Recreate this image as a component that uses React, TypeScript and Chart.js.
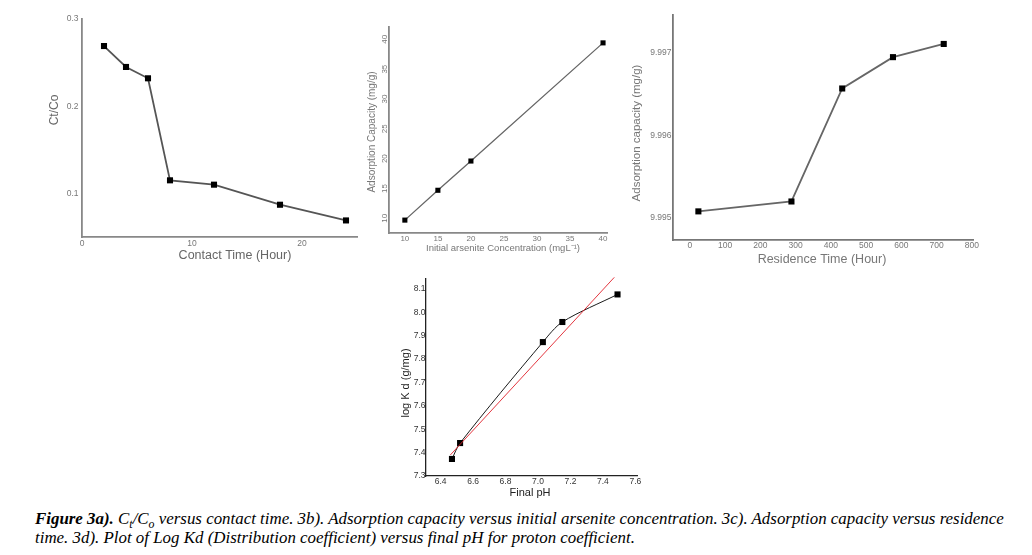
import React, { useEffect, useRef } from "react";
import { Chart, registerables } from "chart.js";

Chart.register(...registerables);

// ---------- Figure 3a: Ct/Co vs contact time ----------
const timeA = [2, 4, 6, 8, 12, 18, 24];
const ctcoA = [0.269, 0.245, 0.232, 0.115, 0.11, 0.087, 0.069];
const xTicksA = [0, 10, 20];
const yTicksA = [0.1, 0.2, 0.3];

// ---------- Figure 3b: adsorption capacity vs initial concentration ----------
const concB = [10, 15, 20, 40];
const capB = [9.7, 14.7, 19.6, 39.4];
const xTicksB = [10, 15, 20, 25, 30, 35, 40];
const yTicksB = [10, 15, 20, 25, 30, 35, 40];

// ---------- Figure 3c: adsorption capacity vs residence time ----------
const timeC = [24, 288, 432, 576, 720];
const capC = [9.99508, 9.9952, 9.99657, 9.99695, 9.99711];
const xTicksC = [0, 100, 200, 300, 400, 500, 600, 700, 800];
const yTicksC = [9.995, 9.996, 9.997];

// ---------- Figure 3d: log Kd vs final pH ----------
const phD = [6.47, 6.52, 7.03, 7.15, 7.49];
const logKdD = [7.373, 7.441, 7.873, 7.959, 8.077];
const fitPhD = [6.46, 7.47];
const fitLogKdD = [7.39, 8.15];
const xTicksD = [6.4, 6.6, 6.8, 7.0, 7.2, 7.4, 7.6];
const yTicksD = [7.3, 7.4, 7.5, 7.6, 7.7, 7.8, 7.9, 8.0, 8.1];

type TextItem = { text: string; x: number; y: number; rot?: boolean; font: string; color: string };

function titlesPlugin(items: TextItem[]) {
  return {
    id: "titles",
    afterDraw(chart: any) {
      const ctx = chart.ctx;
      for (const t of items) {
        ctx.save();
        ctx.font = t.font;
        ctx.fillStyle = t.color;
        ctx.textAlign = "center";
        ctx.textBaseline = "middle";
        ctx.translate(t.x, t.y);
        if (t.rot) ctx.rotate(-Math.PI / 2);
        ctx.fillText(t.text, 0, 0);
        ctx.restore();
      }
    },
  };
}

type Box = { l: number; t: number; r: number; b: number };

function axis(
  min: number,
  max: number,
  ticks: number[],
  fmt: (v: number) => string,
  fontSize: number,
  color: string,
  bColor: string,
  bWidth: number,
  padding: number,
  size: number,
  isY: boolean,
  rotated = false
) {
  const tickOpts: any = {
    font: { family: "Liberation Sans, Arial, sans-serif", size: fontSize },
    color,
    padding,
    autoSkip: false,
    maxRotation: rotated ? 90 : 0,
    minRotation: rotated ? 90 : 0,
    callback: (v: any) => fmt(Number(v)),
  };
  if (rotated) tickOpts.crossAlign = "center";
  return {
    type: "linear",
    min,
    max,
    grid: { display: false, drawTicks: false },
    border: { display: true, color: bColor, width: bWidth },
    ticks: tickOpts,
    afterBuildTicks: (s: any) => {
      s.ticks = ticks.map((v) => ({ value: v }));
    },
    afterFit: (s: any) => {
      if (isY) s.width = size;
      else s.height = size;
    },
  };
}

function Panel(props: {
  left: number;
  top: number;
  width: number;
  height: number;
  build: () => any;
}) {
  const ref = useRef<HTMLCanvasElement | null>(null);
  useEffect(() => {
    if (!ref.current) return;
    const chart = new Chart(ref.current, props.build());
    return () => chart.destroy();
  }, []);
  return (
    <canvas
      ref={ref}
      width={props.width}
      height={props.height}
      style={{
        position: "absolute",
        left: props.left,
        top: props.top,
        width: props.width,
        height: props.height,
      }}
    />
  );
}

const SANS = "Liberation Sans, Arial, sans-serif";

function baseOptions(W: number, H: number, box: Box, xs: any, ys: any) {
  return {
    responsive: false,
    animation: false,
    devicePixelRatio: 1,
    layout: { padding: { left: 0, top: box.t, right: W - box.r, bottom: 0 } },
    plugins: { legend: { display: false }, tooltip: { enabled: false } },
    scales: { x: xs, y: ys },
  };
}

function buildA() {
  const W = 340, H = 275;
  const box = { l: 52, t: 19, r: 327, b: 237 };
  return {
    type: "line",
    data: {
      datasets: [
        {
          data: timeA.map((x, i) => ({ x, y: ctcoA[i] })),
          borderColor: "#555",
          borderWidth: 1.8,
          pointStyle: "rect",
          pointRadius: 4.3,
          pointBackgroundColor: "#000",
          pointBorderColor: "#000",
          pointBorderWidth: 0,
          tension: 0,
          clip: false,
        },
      ],
    },
    options: baseOptions(
      W,
      H,
      box,
      axis(0, 25, xTicksA, (v) => String(v), 8.5, "#777", "#888", 1.8, 1.5, H - box.b, false),
      axis(0.05, 0.3, yTicksA, (v) => v.toFixed(1), 8.5, "#777", "#888", 1.8, 3.5, box.l, true)
    ),
    plugins: [
      titlesPlugin([
        { text: "Ct/Co", x: 25, y: 110, rot: true, font: `12px ${SANS}`, color: "#666" },
        { text: "Contact Time (Hour)", x: 205, y: 256, font: `12.5px ${SANS}`, color: "#666" },
      ]),
    ],
  };
}

function buildB() {
  const W = 262, H = 275;
  const box = { l: 29, t: 27, r: 247, b: 233 };
  return {
    type: "line",
    data: {
      datasets: [
        {
          data: concB.map((x, i) => ({ x, y: capB[i] })),
          borderColor: "#666",
          borderWidth: 1.3,
          pointStyle: "rect",
          pointRadius: 3.6,
          pointBackgroundColor: "#000",
          pointBorderColor: "#000",
          pointBorderWidth: 0,
          tension: 0,
          clip: false,
        },
      ],
    },
    options: baseOptions(
      W,
      H,
      box,
      axis(7.6, 40.6, xTicksB, (v) => String(v), 8, "#777", "#888", 1.8, 0.5, H - box.b, false),
      axis(7.54, 42.06, yTicksB, (v) => String(v), 8, "#777", "#888", 1.8, 0, box.l, true, true)
    ),
    plugins: [
      titlesPlugin([
        { text: "Adsorption Capacity (mg/g)", x: 12, y: 132, rot: true, font: `10px ${SANS}`, color: "#777" },
        { text: "Initial arsenite Concentration (mgL\u207B\u00B9)", x: 143, y: 248, font: `9.5px ${SANS}`, color: "#777" },
      ]),
    ],
  };
}

function buildC() {
  const W = 422, H = 275;
  const box = { l: 63, t: 15, r: 363, b: 240 };
  return {
    type: "line",
    data: {
      datasets: [
        {
          data: timeC.map((x, i) => ({ x, y: capC[i] })),
          borderColor: "#666",
          borderWidth: 1.8,
          pointStyle: "rect",
          pointRadius: 4.3,
          pointBackgroundColor: "#000",
          pointBorderColor: "#000",
          pointBorderWidth: 0,
          tension: 0,
          clip: false,
        },
      ],
    },
    options: baseOptions(
      W,
      H,
      box,
      axis(-48, 803, xTicksC, (v) => String(v), 8.5, "#777", "#777", 1.8, 1, H - box.b, false),
      axis(9.994733, 9.997461, yTicksC, (v) => v.toFixed(3), 8.5, "#777", "#777", 1.8, 1.5, box.l, true)
    ),
    plugins: [
      titlesPlugin([
        { text: "Adsorption capacity (mg/g)", x: 27, y: 133, rot: true, font: `11.5px ${SANS}`, color: "#777" },
        { text: "Residence Time (Hour)", x: 212, y: 260, font: `12.5px ${SANS}`, color: "#777" },
      ]),
    ],
  };
}

function buildD() {
  const W = 280, H = 232;
  const box = { l: 46, t: 9, r: 257, b: 206 };
  return {
    type: "line",
    data: {
      datasets: [
        {
          data: fitPhD.map((x, i) => ({ x, y: fitLogKdD[i] })),
          borderColor: "#e0202a",
          borderWidth: 0.9,
          pointRadius: 0,
          tension: 0,
          clip: false,
        },
        {
          data: phD.map((x, i) => ({ x, y: logKdD[i] })),
          borderColor: "#000",
          borderWidth: 0.9,
          pointStyle: "rect",
          pointRadius: 4.3,
          pointBackgroundColor: "#000",
          pointBorderColor: "#000",
          pointBorderWidth: 0,
          tension: 0.3,
          clip: false,
        },
      ],
    },
    options: baseOptions(
      W,
      H,
      box,
      axis(6.31, 7.61, xTicksD, (v) => v.toFixed(1), 8.5, "#333", "#222", 1.3, 1, H - box.b, false),
      axis(7.3, 8.143, yTicksD, (v) => v.toFixed(1), 8.5, "#333", "#222", 1.3, 0.5, box.l, true)
    ),
    plugins: [
      titlesPlugin([
        { text: "log K d (g/mg)", x: 26, y: 113, rot: true, font: `11px ${SANS}`, color: "#222" },
        { text: "Final pH", x: 150, y: 223, font: `11px ${SANS}`, color: "#222" },
      ]),
    ],
  };
}

const captionStyle: React.CSSProperties = {
  position: "absolute",
  left: 35,
  top: 510,
  fontFamily: "Liberation Serif, Times New Roman, serif",
  fontStyle: "italic",
  fontSize: 16.9,
  color: "#000",
  whiteSpace: "nowrap",
};

const lineStyle: React.CSSProperties = { height: 18.7, lineHeight: "18.7px" };
const subStyle: React.CSSProperties = { fontSize: "70%", verticalAlign: "-4px", lineHeight: 0 };

export default function App() {
  return (
    <div style={{ position: "absolute", left: 0, top: 0, width: 1032, height: 555, background: "#fff" }}>
      <Panel left={30} top={0} width={340} height={275} build={buildA} />
      <Panel left={360} top={0} width={262} height={275} build={buildB} />
      <Panel left={610} top={0} width={422} height={275} build={buildC} />
      <Panel left={380} top={270} width={280} height={232} build={buildD} />
      <div style={captionStyle}>
        <div style={lineStyle}>
          <b>Figure 3a).</b> C<span style={subStyle}>t</span>/C<span style={subStyle}>o</span> versus contact
          time. 3b). Adsorption capacity versus initial arsenite concentration. 3c). Adsorption capacity versus
          residence
        </div>
        <div style={lineStyle}>
          time. 3d). Plot of Log Kd (Distribution coefficient) versus final pH for proton coefficient.
        </div>
      </div>
    </div>
  );
}
